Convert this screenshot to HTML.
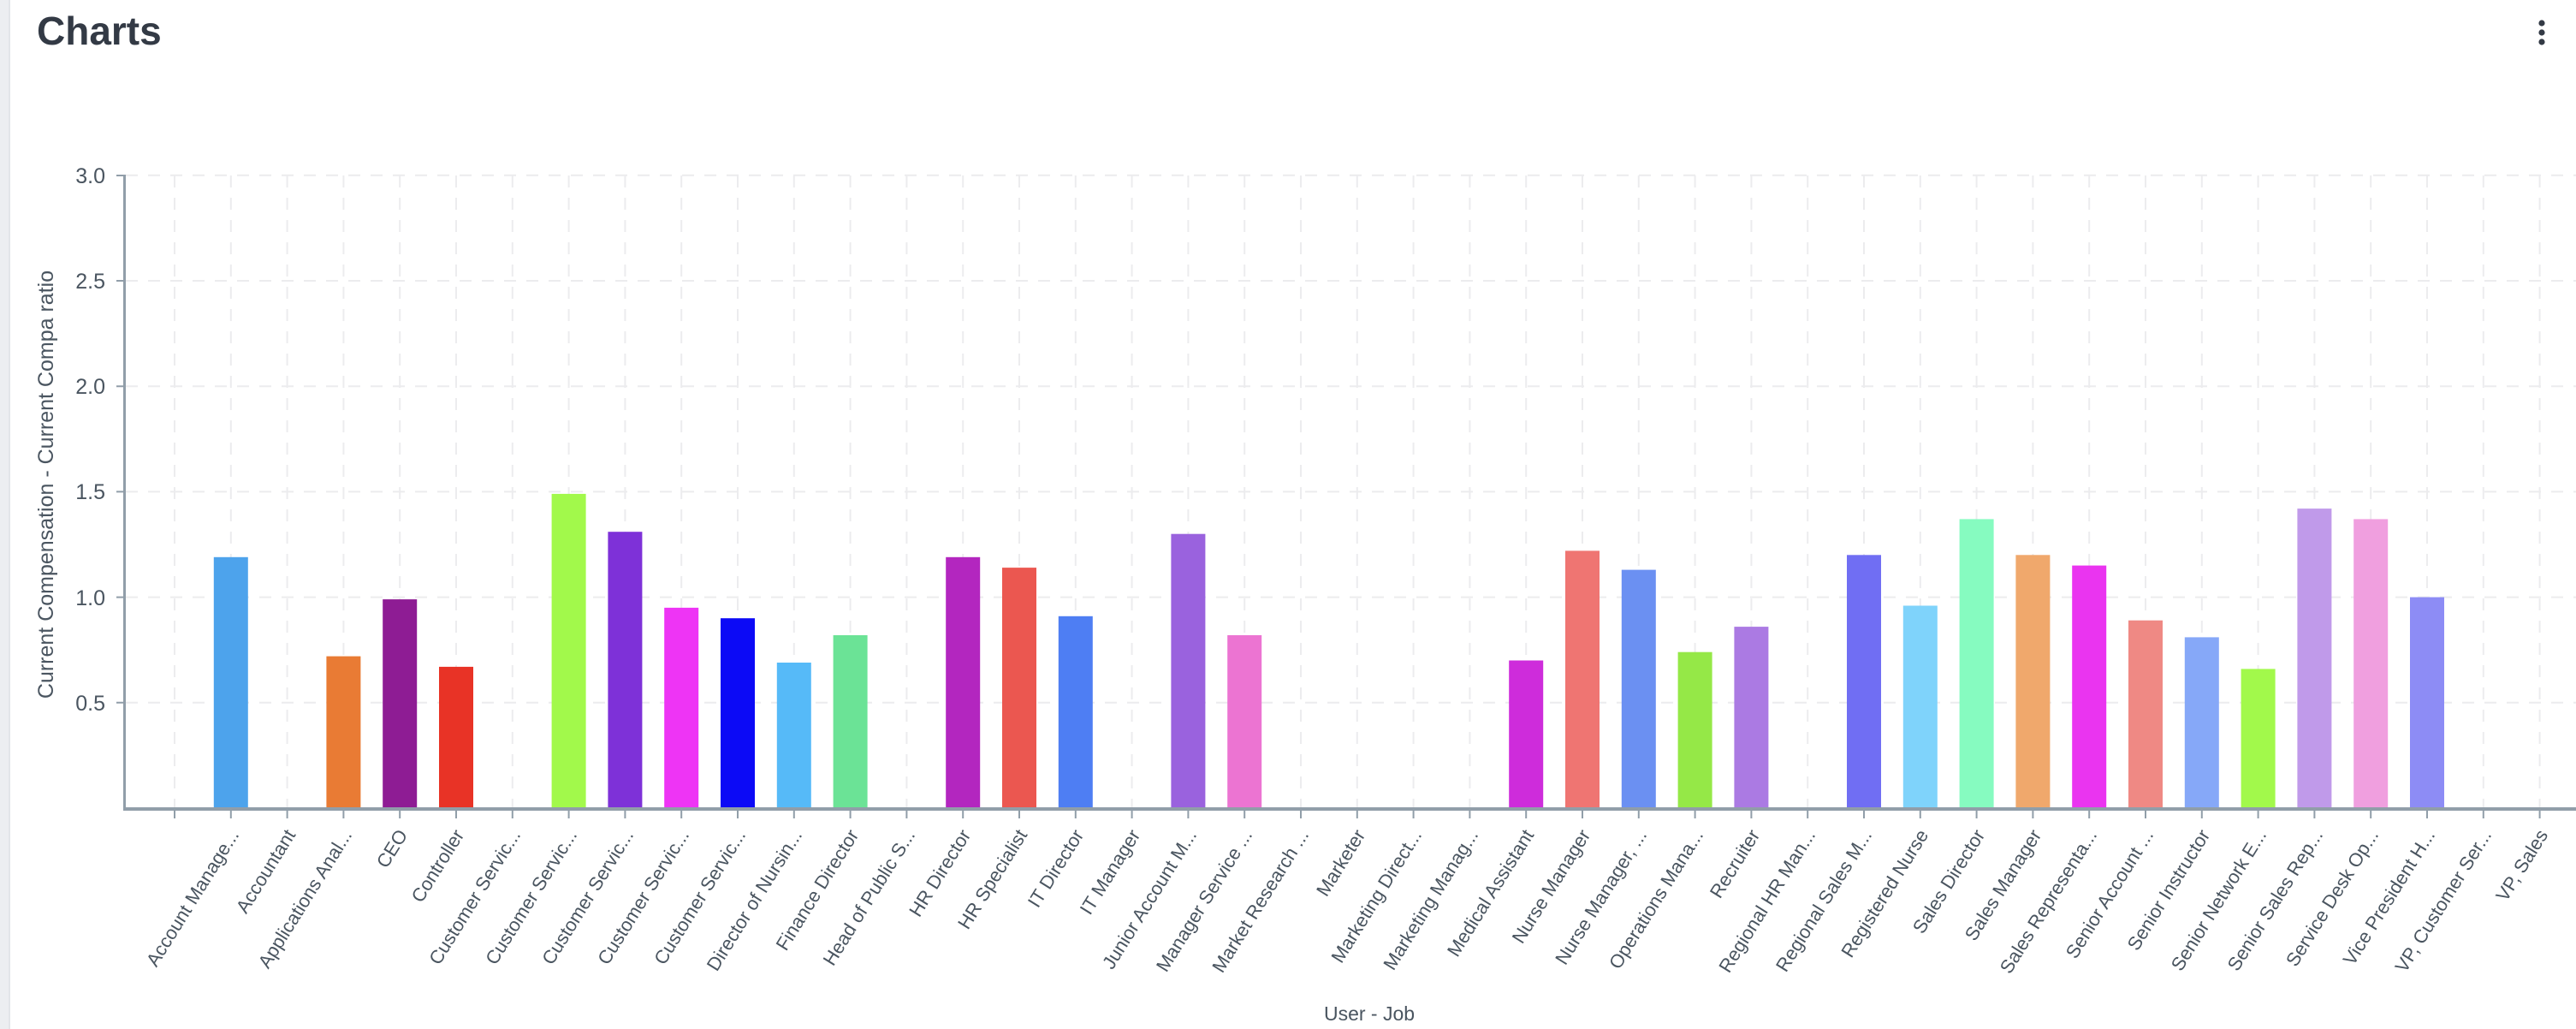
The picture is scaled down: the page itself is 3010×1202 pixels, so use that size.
<!DOCTYPE html>
<html><head><meta charset="utf-8"><style>
html,body{margin:0;padding:0;background:#fff;width:3010px;height:1202px;overflow:hidden}
svg{display:block}
text{font-family:"Liberation Sans",sans-serif}
</style></head><body>
<svg width="3010" height="1202" viewBox="0 0 3010 1202" xmlns="http://www.w3.org/2000/svg">
<rect x="0" y="0" width="12" height="1202" fill="#eceef1"/>
<rect x="10" y="0" width="2" height="1202" fill="#e2e5e9"/>
<text x="43" y="52" font-size="46" font-weight="bold" fill="#333a45">Charts</text>
<circle cx="2970" cy="27" r="3.6" fill="#333a45"/><circle cx="2970" cy="38" r="3.6" fill="#333a45"/><circle cx="2970" cy="49" r="3.6" fill="#333a45"/>
<g stroke="#ececee" stroke-width="2" stroke-dasharray="14,12" fill="none">
<line x1="147" x2="3010" y1="820.8" y2="820.8"/><line x1="147" x2="3010" y1="697.6" y2="697.6"/><line x1="147" x2="3010" y1="574.4" y2="574.4"/><line x1="147" x2="3010" y1="451.2" y2="451.2"/><line x1="147" x2="3010" y1="328" y2="328"/><line x1="147" x2="3010" y1="204.8" y2="204.8"/>
<path d="M204 205V944M269.8 205V944M335.6 205V944M401.4 205V944M467.2 205V944M533 205V944M598.8 205V944M664.6 205V944M730.4 205V944M796.2 205V944M862 205V944M927.8 205V944M993.6 205V944M1059.4 205V944M1125.2 205V944M1191 205V944M1256.8 205V944M1322.6 205V944M1388.4 205V944M1454.2 205V944M1520 205V944M1585.8 205V944M1651.6 205V944M1717.4 205V944M1783.2 205V944M1849 205V944M1914.8 205V944M1980.6 205V944M2046.4 205V944M2112.2 205V944M2178 205V944M2243.8 205V944M2309.6 205V944M2375.4 205V944M2441.2 205V944M2507 205V944M2572.8 205V944M2638.6 205V944M2704.4 205V944M2770.2 205V944M2836 205V944M2901.8 205V944M2967.6 205V944"/>
</g>
<g>
<rect x="249.8" y="650.8" width="40" height="293.2" fill="#4da3ec"/>
<rect x="381.4" y="766.6" width="40" height="177.4" fill="#e97b34"/>
<rect x="447.2" y="700.1" width="40" height="243.9" fill="#8e1c94"/>
<rect x="513" y="778.9" width="40" height="165.1" fill="#e83326"/>
<rect x="644.6" y="576.9" width="40" height="367.1" fill="#a2f94b"/>
<rect x="710.4" y="621.2" width="40" height="322.8" fill="#7e31d8"/>
<rect x="776.2" y="709.9" width="40" height="234.1" fill="#ee34f5"/>
<rect x="842" y="722.2" width="40" height="221.8" fill="#0c0af6"/>
<rect x="907.8" y="774" width="40" height="170" fill="#56baf8"/>
<rect x="973.6" y="742" width="40" height="202" fill="#6be396"/>
<rect x="1105.2" y="650.8" width="40" height="293.2" fill="#b326bf"/>
<rect x="1171" y="663.1" width="40" height="280.9" fill="#eb5750"/>
<rect x="1236.8" y="719.8" width="40" height="224.2" fill="#4e7ef3"/>
<rect x="1368.4" y="623.7" width="40" height="320.3" fill="#9a62de"/>
<rect x="1434.2" y="742" width="40" height="202" fill="#ec74d2"/>
<rect x="1763.2" y="771.5" width="40" height="172.5" fill="#ce2cdb"/>
<rect x="1829" y="643.4" width="40" height="300.6" fill="#ef7572"/>
<rect x="1894.8" y="665.6" width="40" height="278.4" fill="#6b90f2"/>
<rect x="1960.6" y="761.7" width="40" height="182.3" fill="#95e847"/>
<rect x="2026.4" y="732.1" width="40" height="211.9" fill="#ab7ae3"/>
<rect x="2158" y="648.3" width="40" height="295.7" fill="#706ef3"/>
<rect x="2223.8" y="707.5" width="40" height="236.5" fill="#7fd3fb"/>
<rect x="2289.6" y="606.4" width="40" height="337.6" fill="#86fbc0"/>
<rect x="2355.4" y="648.3" width="40" height="295.7" fill="#f0a86c"/>
<rect x="2421.2" y="660.6" width="40" height="283.4" fill="#ea34f0"/>
<rect x="2487" y="724.7" width="40" height="219.3" fill="#ef8984"/>
<rect x="2552.8" y="744.4" width="40" height="199.6" fill="#86a8f8"/>
<rect x="2618.6" y="781.4" width="40" height="162.6" fill="#a2f94b"/>
<rect x="2684.4" y="594.1" width="40" height="349.9" fill="#c09aea"/>
<rect x="2750.2" y="606.4" width="40" height="337.6" fill="#f09fdf"/>
<rect x="2816" y="697.6" width="40" height="246.4" fill="#8d8cf5"/>
</g>
<g stroke="#919ea9" fill="none">
<line x1="145.5" y1="204" x2="145.5" y2="946" stroke-width="3"/>
<line x1="144" y1="945" x2="3010" y2="945" stroke-width="4"/>
<path stroke-width="2" d="M136 205H146M136 328H146M136 451.2H146M136 574.4H146M136 697.6H146M136 820.8H146"/>
<path stroke-width="2" d="M204 946V956M269.8 946V956M335.6 946V956M401.4 946V956M467.2 946V956M533 946V956M598.8 946V956M664.6 946V956M730.4 946V956M796.2 946V956M862 946V956M927.8 946V956M993.6 946V956M1059.4 946V956M1125.2 946V956M1191 946V956M1256.8 946V956M1322.6 946V956M1388.4 946V956M1454.2 946V956M1520 946V956M1585.8 946V956M1651.6 946V956M1717.4 946V956M1783.2 946V956M1849 946V956M1914.8 946V956M1980.6 946V956M2046.4 946V956M2112.2 946V956M2178 946V956M2243.8 946V956M2309.6 946V956M2375.4 946V956M2441.2 946V956M2507 946V956M2572.8 946V956M2638.6 946V956M2704.4 946V956M2770.2 946V956M2836 946V956M2901.8 946V956M2967.6 946V956"/>
</g>
<g font-size="25" fill="#4a5560" text-anchor="end">
<text x="123" y="214">3.0</text><text x="123" y="337">2.5</text><text x="123" y="460">2.0</text><text x="123" y="583">1.5</text><text x="123" y="707">1.0</text><text x="123" y="830">0.5</text>
</g>
<text transform="translate(62,566) rotate(-90)" font-size="25" fill="#4a5560" text-anchor="middle">Current Compensation - Current Compa ratio</text>
<text x="1600" y="1192" font-size="23" fill="#4a5560" text-anchor="middle">User - Job</text>
<g font-size="22" fill="#4a5560" text-anchor="end">
<text transform="translate(280,975) rotate(-58)">Account Manage...</text>
<text transform="translate(346,975) rotate(-58)">Accountant</text>
<text transform="translate(412,975) rotate(-58)">Applications Anal...</text>
<text transform="translate(477,975) rotate(-58)">CEO</text>
<text transform="translate(543,975) rotate(-58)">Controller</text>
<text transform="translate(609,975) rotate(-58)">Customer Servic...</text>
<text transform="translate(675,975) rotate(-58)">Customer Servic...</text>
<text transform="translate(741,975) rotate(-58)">Customer Servic...</text>
<text transform="translate(806,975) rotate(-58)">Customer Servic...</text>
<text transform="translate(872,975) rotate(-58)">Customer Servic...</text>
<text transform="translate(938,975) rotate(-58)">Director of Nursin...</text>
<text transform="translate(1004,975) rotate(-58)">Finance Director</text>
<text transform="translate(1070,975) rotate(-58)">Head of Public S...</text>
<text transform="translate(1135,975) rotate(-58)">HR Director</text>
<text transform="translate(1201,975) rotate(-58)">HR Specialist</text>
<text transform="translate(1267,975) rotate(-58)">IT Director</text>
<text transform="translate(1333,975) rotate(-58)">IT Manager</text>
<text transform="translate(1399,975) rotate(-58)">Junior Account M...</text>
<text transform="translate(1464,975) rotate(-58)">Manager Service ...</text>
<text transform="translate(1530,975) rotate(-58)">Market Research ...</text>
<text transform="translate(1596,975) rotate(-58)">Marketer</text>
<text transform="translate(1662,975) rotate(-58)">Marketing Direct...</text>
<text transform="translate(1728,975) rotate(-58)">Marketing Manag...</text>
<text transform="translate(1793,975) rotate(-58)">Medical Assistant</text>
<text transform="translate(1859,975) rotate(-58)">Nurse Manager</text>
<text transform="translate(1925,975) rotate(-58)">Nurse Manager, ...</text>
<text transform="translate(1991,975) rotate(-58)">Operations Mana...</text>
<text transform="translate(2057,975) rotate(-58)">Recruiter</text>
<text transform="translate(2122,975) rotate(-58)">Regional HR Man...</text>
<text transform="translate(2188,975) rotate(-58)">Regional Sales M...</text>
<text transform="translate(2254,975) rotate(-58)">Registered Nurse</text>
<text transform="translate(2320,975) rotate(-58)">Sales Director</text>
<text transform="translate(2386,975) rotate(-58)">Sales Manager</text>
<text transform="translate(2451,975) rotate(-58)">Sales Representa...</text>
<text transform="translate(2517,975) rotate(-58)">Senior Account ...</text>
<text transform="translate(2583,975) rotate(-58)">Senior Instructor</text>
<text transform="translate(2649,975) rotate(-58)">Senior Network E...</text>
<text transform="translate(2715,975) rotate(-58)">Senior Sales Rep...</text>
<text transform="translate(2780,975) rotate(-58)">Service Desk Op...</text>
<text transform="translate(2846,975) rotate(-58)">Vice President H...</text>
<text transform="translate(2912,975) rotate(-58)">VP, Customer Ser...</text>
<text transform="translate(2978,975) rotate(-58)">VP, Sales</text>
</g>
</svg>
</body></html>
